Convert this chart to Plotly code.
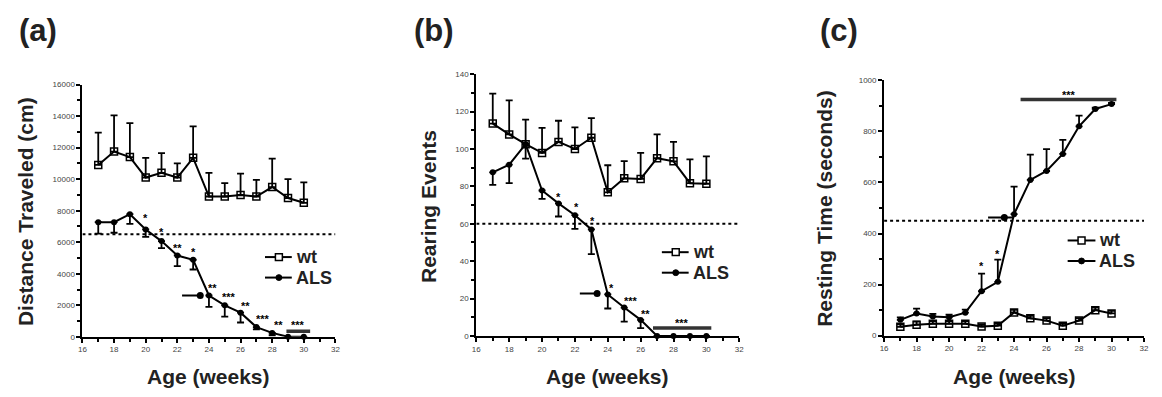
import plotly.graph_objects as go

# ---------------- data ----------------
weeks = [17, 18, 19, 20, 21, 22, 23, 24, 25, 26, 27, 28, 29, 30]

dist_wt = [10900, 11750, 11400, 10100, 10400, 10100, 11350, 8900, 8900, 9000, 8900, 9500, 8800, 8500]
dist_wt_err = [2050, 2300, 2150, 1250, 1250, 900, 2000, 1500, 850, 1350, 1050, 1800, 1200, 1300]
dist_als = [7270, 7270, 7780, 6810, 6070, 5160, 4890, 2620, 2000, 1530, 620, 250, 0, 0]
dist_als_err = [720, 670, 620, 470, 450, 680, 620, 720, 720, 620, 150, 150, 0, 0]
dist_threshold = 6500
dist_onset_x = [22.3, 23.45]
dist_onset_y = 2620
dist_sig_x = [28.9, 30.4]
dist_sig_y = 350
dist_stars = [(20, 7580, "*"), (21, 6650, "*"), (22, 5660, "**"), (23, 5420, "*"),
              (24.25, 3140, "**"), (25.3, 2560, "***"), (26.3, 2000, "**"),
              (27.4, 1180, "***"), (28.4, 770, "**"), (29.65, 770, "***")]

rear_wt = [113.6, 107.8, 102.6, 97.9, 103.8, 100.0, 106.0, 76.8, 84.3, 84.0, 95.1, 93.4, 81.7, 81.4]
rear_wt_err = [16, 18.2, 13.1, 13.4, 11.3, 11.6, 10.5, 14.5, 9.2, 13.9, 12.7, 10.4, 12.7, 14.7]
rear_als = [87.5, 91.6, 102.6, 77.8, 70.9, 64.6, 57.0, 22.2, 15.2, 8.6, 0, 0, 0, 0]
rear_als_err = [6.7, 9.9, 7.8, 4.5, 7.0, 7.3, 13.2, 7.5, 7.5, 4.4, 0, 0, 0, 0]
rear_threshold = 60
rear_onset_x = [22.3, 23.35]
rear_onset_y = 22.7
rear_sig_x = [26.75, 30.3]
rear_sig_y = 4.2
rear_stars = [(21, 74.7, "*"), (22.1, 69.5, "*"), (23.05, 61.7, "*"), (24.2, 26, "*"),
              (25.4, 19, "***"), (26.3, 12, "**"), (28.5, 7, "***")]

rest_wt = [35, 43, 47, 47, 47, 36, 39, 91, 68, 59, 39, 59, 100, 87]
rest_wt_err = [10, 12, 10, 10, 10, 8, 8, 10, 10, 10, 10, 10, 10, 10]
rest_als = [62, 87, 75, 72, 90, 174, 211, 476, 610, 645, 712, 820, 888, 907]
rest_als_err = [10, 19, 10, 10, 12, 69, 87, 108, 99, 86, 55, 42, 5, 5]
rest_threshold = 450
rest_onset_x = [22.4, 24.0]
rest_onset_y = 463
rest_onset_marker_x = 23.4
rest_sig_x = [24.4, 30.3]
rest_sig_y = 925
rest_stars = [(22, 273, "*"), (23, 323, "*"), (27.4, 944, "***")]

panel_labels = ["(a)", "(b)", "(c)"]
y_titles = ["Distance Traveled (cm)", "Rearing Events", "Resting Time (seconds)"]
x_title = "Age (weeks)"
legend_names = ["wt", "ALS"]

# ---------------- layout helpers ----------------
OFF = 8                      # page body margin
W, H = 1162 - 2 * OFF, 397 - 2 * OFF
def px(x):
    return (x - OFF) / W
def py(y):
    return 1 - (y - OFF) / H

FONT = "Liberation Sans, Arial, sans-serif"
fig = go.Figure()

panels = [
    dict(wt=dist_wt, wte=dist_wt_err, als=dist_als, alse=dist_als_err, als_up=False,
         thr=dist_threshold, onx=dist_onset_x, ony=dist_onset_y, onm=dist_onset_x[1],
         sigx=dist_sig_x, sigy=dist_sig_y, stars=dist_stars,
         xd=(79, 334), yd=(82.3, 340.7), yr=16000, dt=2000,
         leg=dict(x0=263, x1=290, xm=277, tx=292, y=(259, 280)),
         lab=(34, 27), ytx=21, ylc=212),
    dict(wt=rear_wt, wte=rear_wt_err, als=rear_als, alse=rear_als_err, als_up=False,
         thr=rear_threshold, onx=rear_onset_x, ony=rear_onset_y, onm=rear_onset_x[1],
         sigx=rear_sig_x, sigy=rear_sig_y, stars=rear_stars,
         xd=(476, 741), yd=(71.7, 339.8), yr=140, dt=20,
         leg=dict(x0=663, x1=690, xm=677, tx=692, y=(254, 275)),
         lab=(433, 27), ytx=428, ylc=207),
    dict(wt=rest_wt, wte=rest_wt_err, als=rest_als, alse=rest_als_err, als_up=True,
         thr=rest_threshold, onx=rest_onset_x, ony=rest_onset_y, onm=rest_onset_marker_x,
         sigx=rest_sig_x, sigy=rest_sig_y, stars=rest_stars,
         xd=(887, 1149), yd=(78, 339.5), yr=1000, dt=200,
         leg=dict(x0=1072, x1=1100, xm=1086, tx=1102, y=(242, 263)),
         lab=(842, 27), ytx=827, ylc=209),
]

annotations = []
shapes = []
for i, p in enumerate(panels):
    n = "" if i == 0 else str(i + 1)
    xa, ya = "x" + n, "y" + n
    # threshold dashed line
    fig.add_trace(go.Scatter(x=[16, 32], y=[p["thr"], p["thr"]], mode="lines",
                             line=dict(color="black", width=2, dash="3px,3px"),
                             xaxis=xa, yaxis=ya, showlegend=False, hoverinfo="skip"))
    # significance bar
    fig.add_trace(go.Scatter(x=p["sigx"], y=[p["sigy"], p["sigy"]], mode="lines",
                             line=dict(color="#333333", width=3.5),
                             xaxis=xa, yaxis=ya, showlegend=False, hoverinfo="skip"))
    # onset arrow
    fig.add_trace(go.Scatter(x=p["onx"], y=[p["ony"], p["ony"]], mode="lines",
                             line=dict(color="black", width=2),
                             xaxis=xa, yaxis=ya, showlegend=False, hoverinfo="skip"))
    fig.add_trace(go.Scatter(x=[p["onm"]], y=[p["ony"]], mode="markers",
                             marker=dict(color="black", size=7, symbol="circle"),
                             xaxis=xa, yaxis=ya, showlegend=False, hoverinfo="skip"))
    # wt
    fig.add_trace(go.Scatter(x=weeks, y=p["wt"], mode="lines+markers", name="wt",
                             line=dict(color="black", width=2),
                             marker=dict(symbol="square-open", size=7, color="black",
                                         line=dict(width=1.5, color="black")),
                             error_y=dict(type="data", symmetric=False, array=p["wte"],
                                          arrayminus=[0] * len(weeks), color="black",
                                          thickness=1.8, width=3.5),
                             xaxis=xa, yaxis=ya, showlegend=False, cliponaxis=False))
    # ALS
    if p["als_up"]:
        ey = dict(type="data", symmetric=False, array=p["alse"], arrayminus=[0] * len(weeks))
    else:
        ey = dict(type="data", symmetric=False, array=[0] * len(weeks), arrayminus=p["alse"])
    ey.update(color="black", thickness=1.8, width=3.5)
    fig.add_trace(go.Scatter(x=weeks, y=p["als"], mode="lines+markers", name="ALS",
                             line=dict(color="black", width=2),
                             marker=dict(symbol="circle", size=6, color="black"),
                             error_y=ey, xaxis=xa, yaxis=ya, showlegend=False,
                             cliponaxis=False))
    # stars
    for sx, sy, st in p["stars"]:
        annotations.append(dict(x=sx, y=sy, xref=xa, yref=ya, text="<b>" + st + "</b>",
                                showarrow=False, height=9,
                                font=dict(size=11, color="black", family=FONT),
                                yanchor="middle"))
    # axes
    axcommon = dict(showline=True, linecolor="black", linewidth=2, ticks="outside",
                    ticklen=4, tickwidth=1.5, tickcolor="black", showgrid=False,
                    zeroline=False, tickformat="d",
                    tickfont=dict(size=8, color="#444", family=FONT))
    fig.update_layout(**{
        "xaxis" + n: dict(axcommon, domain=[px(p["xd"][0]), px(p["xd"][1])], range=[16, 32],
                          dtick=2, tick0=16, anchor=ya,
                          minor=dict(dtick=1, ticks="outside", ticklen=3, tickwidth=1.5,
                                     tickcolor="black")),
        "yaxis" + n: dict(axcommon, domain=[py(p["yd"][1]), py(p["yd"][0])],
                          range=[0, p["yr"]], dtick=p["dt"], anchor=xa,
                          minor=dict(dtick=p["dt"] / 2, ticks="outside", ticklen=3,
                                     tickwidth=1.5, tickcolor="black")),
    })
    # manual legend
    L = p["leg"]
    for k, name in enumerate(legend_names):
        yy = L["y"][k]
        shapes.append(dict(type="line", xref="paper", yref="paper", x0=px(L["x0"]),
                           x1=px(L["x1"]), y0=py(yy), y1=py(yy),
                           line=dict(color="black", width=2)))
        if k == 0:
            shapes.append(dict(type="rect", xref="paper", yref="paper",
                               x0=px(L["xm"] - 3.5), x1=px(L["xm"] + 3.5),
                               y0=py(yy + 3.5), y1=py(yy - 3.5), fillcolor="white",
                               line=dict(color="black", width=1.5)))
        else:
            shapes.append(dict(type="circle", xref="paper", yref="paper",
                               x0=px(L["xm"] - 3), x1=px(L["xm"] + 3),
                               y0=py(yy + 3), y1=py(yy - 3), fillcolor="black",
                               line=dict(color="black", width=1)))
        annotations.append(dict(x=px(L["tx"]), y=py(yy), xref="paper", yref="paper",
                                text="<b>" + name + "</b>", showarrow=False,
                                font=dict(size=18, family=FONT, color="#222"),
                                xanchor="left", yanchor="middle"))
    # panel label
    annotations.append(dict(x=px(p["lab"][0]), y=py(p["lab"][1]), xref="paper", yref="paper",
                            text="<b>" + panel_labels[i] + "</b>", showarrow=False,
                            font=dict(size=31, family=FONT, color="#222"),
                            xanchor="center", yanchor="middle"))
    # y title
    annotations.append(dict(x=px(p["ytx"]), y=py(p["ylc"]), xref="paper", yref="paper",
                            text="<b>" + y_titles[i] + "</b>", showarrow=False, textangle=-90,
                            font=dict(size=21, family=FONT, color="#222"),
                            xanchor="center", yanchor="middle"))
    # x title
    annotations.append(dict(x=px((p["xd"][0] + p["xd"][1]) / 2), y=py(381), xref="paper",
                            yref="paper", text="<b>" + x_title + "</b>", showarrow=False,
                            font=dict(size=21, family=FONT, color="#222"),
                            xanchor="center", yanchor="middle"))

fig.update_layout(width=W, height=H, margin=dict(l=0, r=0, t=0, b=0),
                  paper_bgcolor="white", plot_bgcolor="white",
                  annotations=annotations, shapes=shapes, showlegend=False)

fig.write_html("out.html")
